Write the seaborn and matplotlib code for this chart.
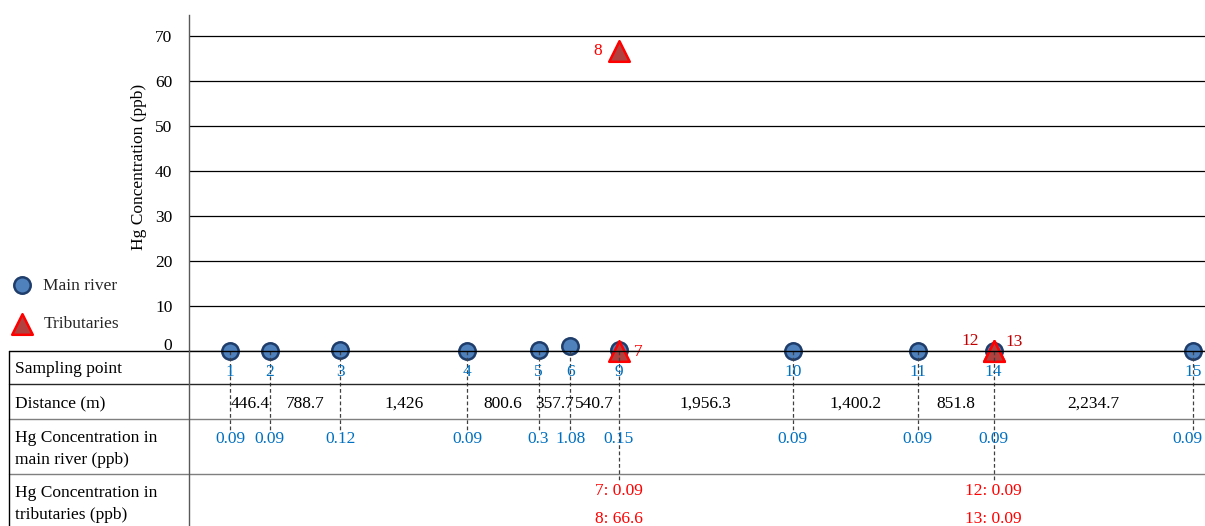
import matplotlib
matplotlib.use("Agg")
import matplotlib.pyplot as plt
import matplotlib.transforms as mtransforms
from matplotlib.lines import Line2D
import numpy as np
import pandas as pd
import seaborn as sns

# Main-river sampling points (upstream -> downstream) and reach lengths between them
main_points = [1, 2, 3, 4, 5, 6, 9, 10, 11, 14, 15]
reach_lengths = [446.4, 788.7, 1426, 800.6, 357.7, 540.7, 1956.3, 1400.2, 851.8, 2234.7]
reach_labels = ["446.4", "788.7", "1,426", "800.6", "357.7", "540.7",
                "1,956.3", "1,400.2", "851.8", "2,234.7"]
main_hg = [0.09, 0.09, 0.12, 0.09, 0.3, 1.08, 0.15, 0.09, 0.09, 0.09, 0.09]
main_hg_labels = ["0.09", "0.09", "0.12", "0.09", "0.3", "1.08", "0.15",
                  "0.09", "0.09", "0.09", "0.09"]

# Tributary samples and the main-river point where each tributary joins
trib_points = [7, 8, 12, 13]
trib_junction = [9, 9, 14, 14]
trib_hg = [0.09, 66.6, 0.09, 0.09]
trib_hg_labels = ["0.09", "66.6", "0.09", "0.09"]

y_ticks = [0, 10, 20, 30, 40, 50, 60, 70]
row_titles = ["Sampling point", "Distance (m)",
              "Hg Concentration in\nmain river (ppb)",
              "Hg Concentration in\ntributaries (ppb)"]

sns.set_theme(style="white")
plt.rcParams["font.family"] = ["Liberation Serif", "DejaVu Serif"]
FS = 12.5

BLUE_TXT = "#0070C0"
RED_TXT = "#FF0000"
DARK_RED = "#C00000"

# Positions along the river = cumulative distance from point 1
main_x = np.concatenate([[0.0], np.cumsum(reach_lengths)])
pos_of = dict(zip(main_points, main_x))
trib_x = [pos_of[j] for j in trib_junction]

main_df = pd.DataFrame({"point": main_points, "x": main_x, "hg": main_hg})
trib_df = pd.DataFrame({"point": trib_points, "x": trib_x, "hg": trib_hg})

W, H = 1205, 526
fig = plt.figure(figsize=(W / 100, H / 100), dpi=100)
ax = fig.add_axes([189 / W, (H - 351) / H, (W - 189) / W, (351 - 15) / H])
tab = fig.add_axes([189 / W, 0, (W - 189) / W, 175 / H], sharex=ax)

# --- scatter of concentrations -------------------------------------------
sns.scatterplot(data=main_df, x="x", y="hg", ax=ax, marker="o", s=140,
                color="#4F81BD", edgecolor="#1F3D6B", linewidth=1.8,
                label="Main river", clip_on=False, zorder=3)
sns.scatterplot(data=trib_df, x="x", y="hg", ax=ax, marker="^", s=220,
                color="#B0413F", edgecolor="#FF0000", linewidth=1.8,
                label="Tributaries", clip_on=False, zorder=4)

ax.set_xlim(-460, 10940)
ax.set_ylim(0, 74.7)
ax.set_yticks(y_ticks)
ax.set_yticklabels([str(t) for t in y_ticks], fontsize=FS)
ax.tick_params(axis="y", length=6, width=0.8, color="#404040", pad=6,
               labelcolor="black")
ax.tick_params(axis="x", bottom=False, labelbottom=False)
ax.set_xlabel("")
ax.set_ylabel("Hg Concentration (ppb)", fontsize=FS, color="black")
ax.yaxis.set_label_coords(-0.041, 0.548)
ax.yaxis.grid(True, color="black", linewidth=0.9)
ax.xaxis.grid(False)
for side in ("top", "right", "bottom"):
    ax.spines[side].set_visible(False)
ax.spines["left"].set_color("#595959")
ax.spines["left"].set_linewidth(1.0)

# lift the "0" tick label a little above the table border
zero_lbl = ax.yaxis.get_major_ticks()[0].label1
zero_lbl.set_transform(zero_lbl.get_transform()
                       + mtransforms.ScaledTranslation(0, 0.07, fig.dpi_scale_trans))

# tributary point labels
label_style = {7: (14, -1, RED_TXT), 8: (-15, 0, RED_TXT),
               12: (-17, 7, DARK_RED), 13: (15, 6, DARK_RED)}
for p, x, y in zip(trib_points, trib_x, trib_hg):
    dx, dy, c = label_style[p]
    ax.annotate(str(p), (x, y), xytext=(dx, dy), textcoords="offset points",
                ha="center", va="center", color=c, fontsize=FS,
                annotation_clip=False)

# legend at the far left
handles, labels = ax.get_legend_handles_labels()
ax.legend(handles, labels, loc="center left", frameon=False, fontsize=FS,
          bbox_to_anchor=(5 / W, (H - 305) / H), bbox_transform=fig.transFigure,
          handletextpad=0.6, labelspacing=1.3, handlelength=1.2,
          borderaxespad=0)

# --- data table under the chart --------------------------------------------
tab.set_ylim(175, 0)
tab.axis("off")
left_edge = (9 - 189) / (W - 189)
row_lines = [0, 33, 68, 123]
row_colors = ["black", "#262626", "#7f7f7f", "#7f7f7f"]
for yl, c in zip(row_lines, row_colors):
    tab.axhline(yl, xmin=left_edge, xmax=1, color=c, linewidth=1.0, clip_on=False)
for xa, c in ((left_edge, "black"), (0.0, "#595959")):
    tab.add_line(Line2D([xa, xa], [0, 1], transform=tab.transAxes, color=c,
                        linewidth=1.0, clip_on=False))

title_x = (15 - 189) / (W - 189)
title_y = [18, 53, 98, 153]
ttrans = mtransforms.blended_transform_factory(tab.transAxes, tab.transData)
for t, yv in zip(row_titles, title_y):
    tab.text(title_x, yv, t, transform=ttrans, ha="left", va="center",
             fontsize=FS, color="black", linespacing=1.45, clip_on=False)

junctions = set(trib_junction)
for p, x in zip(main_points, main_x):
    bottom = 129 if p in junctions else 79
    tab.plot([x, x], [0, bottom], color="#404040", linewidth=0.9,
             linestyle=(0, (3, 2)), zorder=1)
    tab.text(x, 21, str(p), ha="center", va="center", fontsize=FS,
             color=BLUE_TXT, zorder=3)

mid_x = (main_x[:-1] + main_x[1:]) / 2
for x, lbl in zip(mid_x, reach_labels):
    tab.text(x, 53, lbl, ha="center", va="center", fontsize=FS, color="black",
             zorder=3)

# concentration values; the last one is nudged left to stay inside the frame
n_main = len(main_x)
for i, (x, lbl) in enumerate(zip(main_x, main_hg_labels)):
    dx = -4 if i == n_main - 1 else 0
    tab.annotate(lbl, (x, 88), xytext=(dx, 0), textcoords="offset points",
                 ha="center", va="center", fontsize=FS, color=BLUE_TXT,
                 zorder=3, annotation_clip=False)

stack = {}
for p, x, lbl in zip(trib_points, trib_x, trib_hg_labels):
    k = stack.get(x, 0)
    stack[x] = k + 1
    tab.text(x, 140 + 28 * k, f"{p}: {lbl}", ha="center", va="center",
             fontsize=FS, color=RED_TXT, clip_on=False)

fig.savefig("out.png", dpi=100)
